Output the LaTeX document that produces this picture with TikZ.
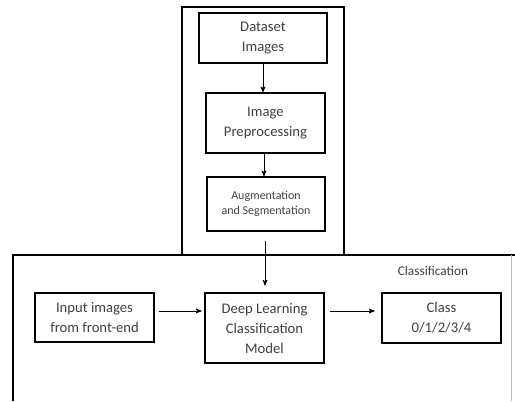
\documentclass[tikz,border=0pt]{standalone}
\usepackage{fontspec}
\setmainfont{Carlito}
\usepackage{tikz}
\usetikzlibrary{arrows}
\usetikzlibrary{calc}
\tikzset{blk/.style={draw=black, line width=1pt, align=center, text=black!75, font=\fontsize{11}{15}\selectfont, inner sep=1pt}}
\tikzset{flow/.style={black, line width=.6pt, ->, >=stealth'}}

\begin{document}
\begin{tikzpicture} [x=.75pt, y=-.75pt]
\useasboundingbox (0,0) rectangle (515,401);
% frames
\draw[black, line width=1.6pt] (182,255)--(182,7)--(344,7)--(344,255);
\draw[black, line width=1.3pt] (13,401)--(13,255)--(515,255);
\draw[black!25, line width=.5pt] (511,255)--(511,401);
\node[text=black!75, font=\fontsize{10}{12}\selectfont] (cls) at (433,271) {Classification};

\node[blk, minimum width=96pt, minimum height=37.5pt] (data) at (263,38) {Dataset\\Images};
\node[blk, minimum width=89.25pt, minimum height=45pt] (prep) at (265.5,123) {Image\\Preprocessing};
\node[blk, minimum width=88.5pt, minimum height=40.5pt, font=\fontsize{9}{11}\selectfont] (aug) at (266,204) {Augmentation\\and Segmentation};

\node[blk, minimum width=89.25pt, minimum height=36.75pt] (input) at (94.5,317.5) {Input images\\from front-end};
\node[blk, minimum width=89.25pt, minimum height=52.5pt] (model) at (264.5,328) {Deep Learning\\Classification\\Model};
\node[blk, minimum width=89.25pt, minimum height=37.5pt] (out) at (441.5,318) {Class\\0/1/2/3/4};

\draw[flow] (263,63|-data.south) -- (263,63|-prep.north);
\draw[flow] (264,0|-prep.south) -- (264,0|-aug.north);
\draw[flow, shorten <=7pt, shorten >=5pt] (265,0|-aug.south) -- (265,0|-model.north);
\draw[flow, shorten <=3pt, shorten >=2pt] (input.east|-0,311) -- (model.west|-0,311);
\draw[flow, shorten <=4pt, shorten >=5pt] (model.east|-0,311) -- (out.west|-0,311);
\end{tikzpicture}
\end{document}
